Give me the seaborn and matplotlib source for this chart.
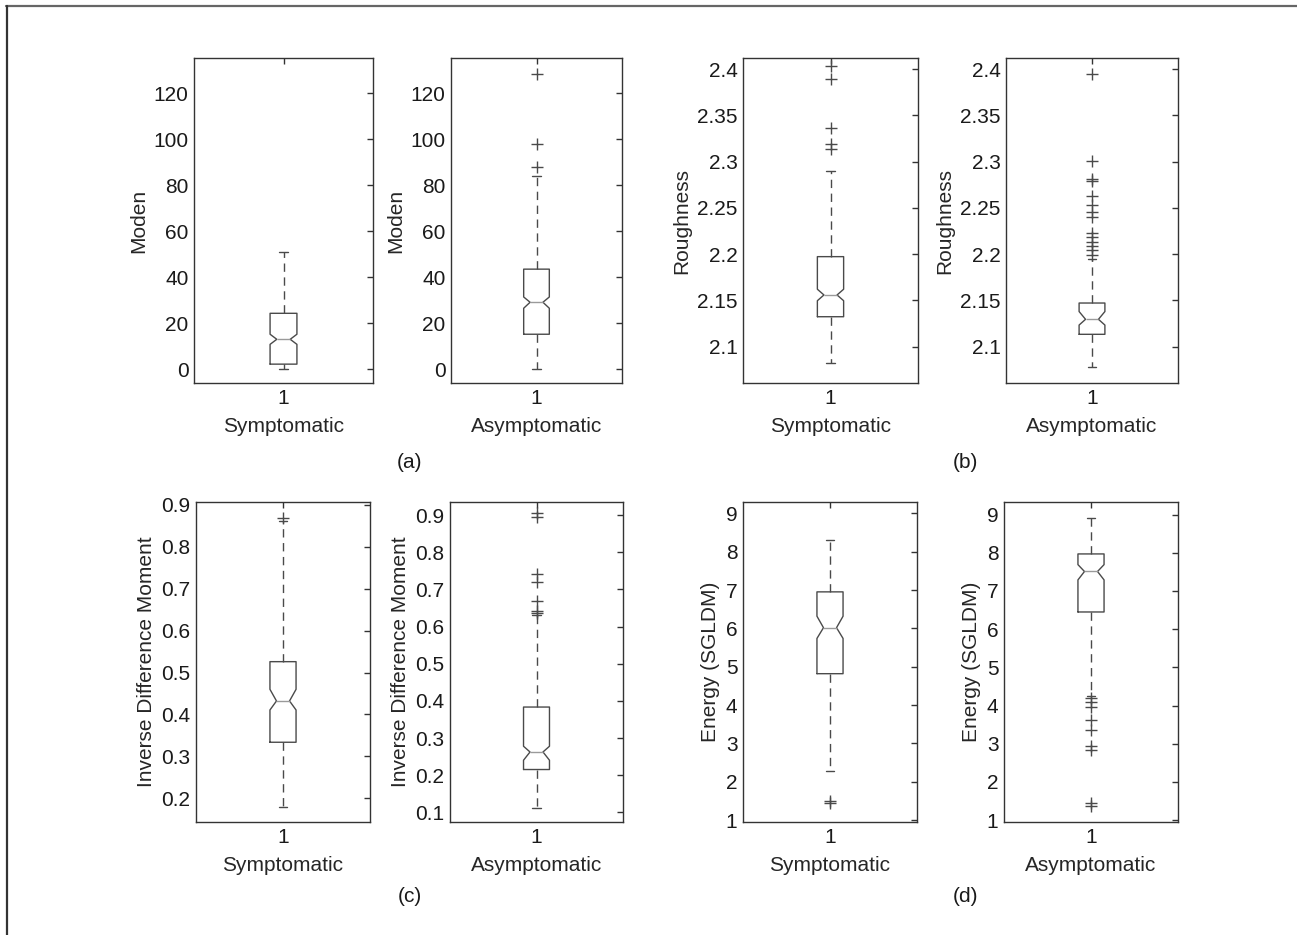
'''Notched box plots of texture features, symptomatic vs asymptomatic'''

### IMPORTS ###

import matplotlib
matplotlib.use('Agg')
import matplotlib.pyplot as plt
import seaborn as sns
from matplotlib.lines import Line2D

### DATA ###
# box = [whisker low, q1, median, q3, whisker high], notch = [low, high]

moden_sym_box = [0.0, 2.2, 13.0, 24.3, 51.1]
moden_sym_notch = [10.8, 15.2]
moden_sym_out = []

moden_asym_box = [0.0, 15.2, 29.1, 43.5, 84.0]
moden_asym_notch = [26.5, 31.4]
moden_asym_out = [128.3, 97.8, 87.8]

rough_sym_box = [2.0827, 2.1324, 2.1559, 2.1973, 2.290]
rough_sym_notch = [2.1497, 2.1621]
rough_sym_out = [2.403, 2.389, 2.336, 2.319, 2.314]

rough_asym_box = [2.0777, 2.1134, 2.1296, 2.1472, 2.195]
rough_asym_notch = [2.1234, 2.1380]
rough_asym_out = [2.3946, 2.3006, 2.2810, 2.2790, 2.2626, 2.2526, 2.2453,
                  2.2400, 2.2227, 2.2184, 2.2130, 2.2087, 2.2040, 2.1987]

idm_sym_box = [0.1785, 0.3337, 0.4322, 0.5260, 0.8625]
idm_sym_notch = [0.4107, 0.4600]
idm_sym_out = [0.8700]

idm_asym_box = [0.1124, 0.2152, 0.2624, 0.3833, 0.632]
idm_asym_notch = [0.2402, 0.2778]
idm_asym_out = [0.905, 0.895, 0.741, 0.720, 0.668, 0.642, 0.636]

energy_sym_box = [2.285, 4.82, 6.02, 6.955, 8.30]
energy_sym_notch = [5.74, 6.32]
energy_sym_out = [1.50, 1.44]

energy_asym_box = [4.25, 6.45, 7.51, 7.97, 8.91]
energy_asym_notch = [7.29, 7.69]
energy_asym_out = [4.19, 4.09, 3.96, 3.61, 3.37, 2.93, 2.83, 1.44, 1.37]

moden_ticks = [0, 20, 40, 60, 80, 100, 120]
rough_ticks = [2.1, 2.15, 2.2, 2.25, 2.3, 2.35, 2.4]
rough_labels = ['2.1', '2.15', '2.2', '2.25', '2.3', '2.35', '2.4']
idm_sym_ticks = [0.2, 0.3, 0.4, 0.5, 0.6, 0.7, 0.8, 0.9]
idm_asym_ticks = [0.1, 0.2, 0.3, 0.4, 0.5, 0.6, 0.7, 0.8, 0.9]
energy_ticks = [1, 2, 3, 4, 5, 6, 7, 8, 9]

### STYLE ###

sns.set_style('white')
plt.rcParams['font.family'] = ['Liberation Sans', 'DejaVu Sans']
plt.rcParams['font.size'] = 15

EDGE = '#4a4a4a'
W, H = 1297, 935

### FUNCTIONS ###

def px_axes(fig, left, top, right, bottom):
    return fig.add_axes([left / W, 1 - bottom / H, (right - left) / W, (bottom - top) / H])


def draw_box(ax, box, notch, out, ticks, ylim, ylabel, xlabel, labels=None):
    stats = dict(whislo=box[0], q1=box[1], med=box[2], q3=box[3], whishi=box[4],
                 cilo=notch[0], cihi=notch[1], fliers=out)
    ax.bxp([stats], positions=[1], widths=0.15, shownotches=True, showfliers=True,
           capwidths=0.05,
           boxprops=dict(color=EDGE, linewidth=1.0),
           medianprops=dict(color='#9a9a9a', linewidth=1.0),
           whiskerprops=dict(color=EDGE, linewidth=1.0, linestyle=(0, (6, 4))),
           capprops=dict(color=EDGE, linewidth=1.0),
           flierprops=dict(marker='+', markeredgecolor=EDGE, markersize=8,
                           markeredgewidth=1.0, linestyle='none'))
    ax.set_xlim(0.5, 1.5)
    ax.set_ylim(*ylim)
    ax.set_xticks([1])
    ax.set_xticklabels(['1'])
    ax.set_yticks(ticks)
    if labels is not None:
        ax.set_yticklabels(labels)
    ax.set_ylabel(ylabel, labelpad=4)
    ax.set_xlabel(xlabel, labelpad=7)
    ax.tick_params(direction='in', length=4, width=1, top=True, right=True,
                   colors='#333333', labelcolor='#1a1a1a', pad=4)
    for s in ax.spines.values():
        s.set_color('#333333')
        s.set_linewidth(1.0)

### PLOT ###

fig = plt.figure(figsize=(W / 100, H / 100), dpi=100)

ax1 = px_axes(fig, 194, 58, 373, 383)
draw_box(ax1, moden_sym_box, moden_sym_notch, moden_sym_out, moden_ticks,
         (-6, 135.3), 'Moden', 'Symptomatic')
ax2 = px_axes(fig, 451, 58, 622, 383)
draw_box(ax2, moden_asym_box, moden_asym_notch, moden_asym_out, moden_ticks,
         (-6, 135.3), 'Moden', 'Asymptomatic')
ax3 = px_axes(fig, 743, 58, 918, 383)
draw_box(ax3, rough_sym_box, rough_sym_notch, rough_sym_out, rough_ticks,
         (2.0608, 2.4119), 'Roughness', 'Symptomatic', rough_labels)
ax4 = px_axes(fig, 1006, 58, 1178, 383)
draw_box(ax4, rough_asym_box, rough_asym_notch, rough_asym_out, rough_ticks,
         (2.0608, 2.4119), 'Roughness', 'Asymptomatic', rough_labels)

ax5 = px_axes(fig, 196, 502, 370, 822)
draw_box(ax5, idm_sym_box, idm_sym_notch, idm_sym_out, idm_sym_ticks,
         (0.1434, 0.907), 'Inverse Difference Moment', 'Symptomatic')
ax6 = px_axes(fig, 450, 502, 623, 822)
draw_box(ax6, idm_asym_box, idm_asym_notch, idm_asym_out, idm_asym_ticks,
         (0.074, 0.935), 'Inverse Difference Moment', 'Asymptomatic')
ax7 = px_axes(fig, 743, 502, 917, 822)
draw_box(ax7, energy_sym_box, energy_sym_notch, energy_sym_out, energy_ticks,
         (0.95, 9.3), 'Energy (SGLDM)', 'Symptomatic')
ax8 = px_axes(fig, 1004, 502, 1178, 822)
draw_box(ax8, energy_asym_box, energy_asym_notch, energy_asym_out, energy_ticks,
         (0.95, 9.33), 'Energy (SGLDM)', 'Asymptomatic')

for lab, x, y in [('(a)', 410, 462), ('(b)', 965, 462), ('(c)', 410, 897), ('(d)', 965, 897)]:
    fig.text(x / W, 1 - y / H, lab, ha='center', va='center', color='#1a1a1a')

# frame lines at the top and left of the figure
fig.add_artist(Line2D([6 / W, 1], [1 - 6 / H, 1 - 6 / H], transform=fig.transFigure,
                      color='#666666', linewidth=1.6))
fig.add_artist(Line2D([6.5 / W, 6.5 / W], [0, 1 - 6 / H], transform=fig.transFigure,
                      color='#333333', linewidth=1.6))

fig.savefig('out.png', dpi=100)
